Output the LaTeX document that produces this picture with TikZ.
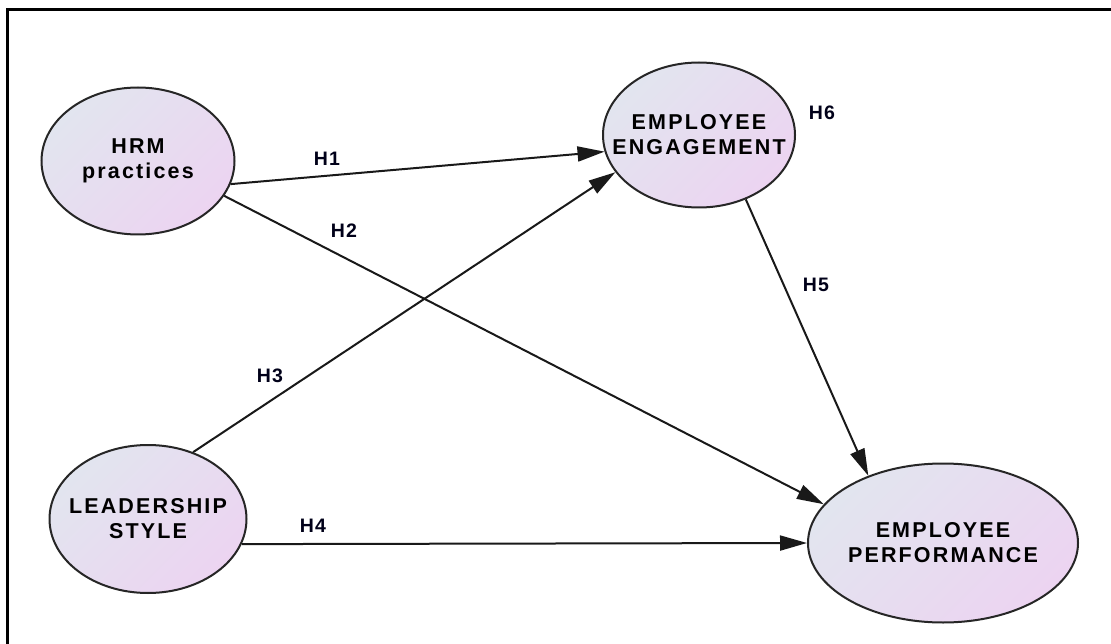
\documentclass[tikz,border=0pt]{standalone}
\usepackage{fontspec}
\setmainfont{Liberation Sans}
\newfontfamily\nodefont[LetterSpace=10]{Liberation Sans}
\newfontfamily\hypfont[LetterSpace=6]{Liberation Sans}
\usetikzlibrary{arrows.meta,shapes.geometric}
\definecolor{fillA}{HTML}{E2E5EF}
\definecolor{fillB}{HTML}{ECD4F1}
\tikzset{
  construct/.style={ellipse, draw=black!85, line width=2pt, inner sep=0pt,
    top color=fillA, bottom color=fillB, shading angle=45},
  ctext/.style={align=center, inner sep=0pt, font=\nodefont\bfseries\fontsize{21.5}{25}\selectfont},
  hyp/.style={font=\hypfont\bfseries\fontsize{19.5}{21}\selectfont, text=black!90!blue},
  link/.style={line width=2pt, draw=black!90, -{Triangle[length=27pt,width=15pt]}},
}
\begin{document}
\begin{tikzpicture}[x=1pt,y=-1pt]
\useasboundingbox (0,0) rectangle (1111,644);
\fill[white] (0,0) rectangle (1111,644);
\draw[line width=3pt] (7,644) -- (7,10) -- (1111,10);

\node[construct, minimum width=193pt, minimum height=147pt,
  label={[ctext]center:HRM\\practices}] (hrm) at (138,161) {};
\node[construct, minimum width=192pt, minimum height=145pt,
  label={[ctext]center:EMPLOYEE\\ENGAGEMENT}] (eng) at (699,135) {};
\node[construct, minimum width=270pt, minimum height=159pt,
  label={[ctext]center:EMPLOYEE\\PERFORMANCE}] (perf) at (943,543) {};
\node[construct, minimum width=197pt, minimum height=148pt,
  label={[ctext]center:LEADERSHIP\\STYLE}] (lead) at (148,519) {};

\draw[link] (hrm.-14.6) -- (eng.190.6);
\draw[link] (hrm.-22.5) -- (perf.162.8);
\draw[link] (lead.56.1) -- (eng.204.3);
\draw[link] (lead.-15.9) -- (perf.180);
\draw[link] (eng.-54.8) -- (perf.138.2);

\node[hyp] (h1) at (327,159) {H1};
\node[hyp] (h2) at (344,231) {H2};
\node[hyp] (h3) at (270,376) {H3};
\node[hyp] (h4) at (313,526) {H4};
\node[hyp] (h5) at (816,285) {H5};
\node[hyp] (h6) at (822,113) {H6};
\end{tikzpicture}
\end{document}
